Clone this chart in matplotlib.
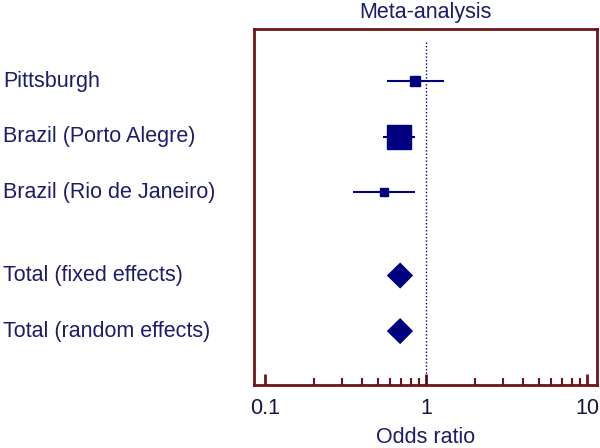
import matplotlib.pyplot as plt
import matplotlib.transforms as mtransforms
from matplotlib.ticker import FixedLocator, FixedFormatter, NullFormatter

plt.rcParams['font.family'] = ['Liberation Sans', 'DejaVu Sans']

studies = ["Pittsburgh", "Brazil (Porto Alegre)", "Brazil (Rio de Janeiro)"]
study_or = [0.855, 0.676, 0.548]
study_lo = [0.57, 0.543, 0.35]
study_hi = [1.29, 0.855, 0.855]
study_size = [7.2, 17.5, 5.8]  # marker size ~ study weight
study_rows = [1, 2, 3]

totals = ["Total (fixed effects)", "Total (random effects)"]
total_or = [0.69, 0.69]
total_lo = [0.57, 0.57]
total_hi = [0.83, 0.83]
total_rows = [4.5, 5.5]

navy = '#000080'
textc = '#1c1c6b'
boxc = '#6e1414'
fs = 15.5

fig = plt.figure(figsize=(6, 4.48), dpi=100)
ax = fig.add_axes([0.4233, 0.1406, 0.5717, 0.7947])

# study estimates
for r, o, lo, hi, s in zip(study_rows, study_or, study_lo, study_hi, study_size):
    ax.plot([lo, hi], [r, r], color=navy, lw=1.5, solid_capstyle='butt')
    ax.plot(o, r, marker='s', ms=s, color=navy, mec=navy)

# pooled diamonds
h = 0.235
for r, o, lo, hi in zip(total_rows, total_or, total_lo, total_hi):
    ax.fill([lo, o, hi, o], [r, r - h, r, r + h], color=navy, lw=0)

# line of no effect
ax.plot([1, 1], [0.3, 6.47], color=navy, lw=1, ls=(0, (1, 1.5)))

ax.set_xscale('log')
ax.set_xlim(0.0854, 11.5)
ax.set_ylim(6.47, 0.063)
ax.set_yticks([])

minor = [m * d for d in (0.1, 1) for m in range(2, 10)]
ax.xaxis.set_major_locator(FixedLocator([0.1, 1, 10]))
ax.xaxis.set_major_formatter(FixedFormatter(["0.1", "1", "10"]))
ax.xaxis.set_minor_locator(FixedLocator(minor))
ax.xaxis.set_minor_formatter(NullFormatter())
ax.tick_params(axis='x', which='major', direction='in', length=8, width=2,
               color=boxc, labelsize=fs, labelcolor='#141440', pad=9)
ax.tick_params(axis='x', which='minor', direction='in', length=5, width=1.5,
               color=boxc)

for sp in ax.spines.values():
    sp.set_color(boxc)
    sp.set_linewidth(2)

ax.set_title("Meta-analysis", fontsize=fs, color=textc, pad=8)
ax.set_xlabel("Odds ratio", fontsize=fs, color=textc, labelpad=6)

trans = mtransforms.blended_transform_factory(fig.transFigure, ax.transData)
for name, r in zip(studies + totals, study_rows + total_rows):
    ax.text(0.005, r, name, transform=trans, ha='left', va='center',
            fontsize=fs, color=textc)

fig.savefig("out.png", dpi=100)
